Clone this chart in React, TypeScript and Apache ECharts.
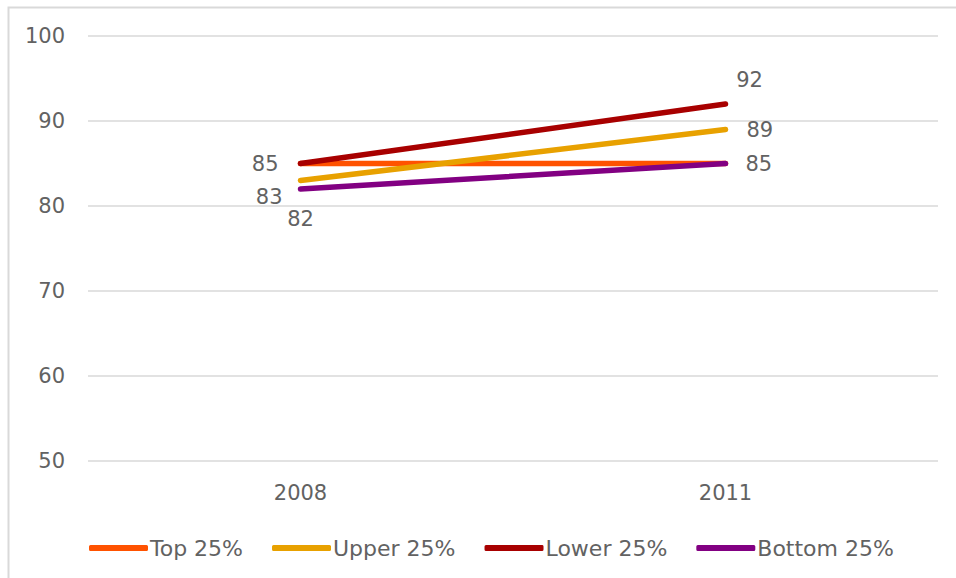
import React, { useEffect, useRef } from "react";
import * as echarts from "echarts";

const categories = ["2008", "2011"];
const seriesNames = ["Top 25%", "Upper 25%", "Lower 25%", "Bottom 25%"];
const topValues = [85, 85];
const upperValues = [83, 89];
const lowerValues = [85, 92];
const bottomValues = [82, 85];
const colors = ["#FF5200", "#E8A100", "#A80000", "#820082"];
const yTicks = { min: 50, max: 100, interval: 10 };

const FONT = "DejaVu Sans";
const TEXT = "#626262";

export default function App() {
  const ref = useRef<HTMLDivElement>(null);
  useEffect(() => {
    if (!ref.current) return;
    const chart = echarts.init(ref.current, undefined, { renderer: "svg" });
    const lbl = (extra: any) => ({
      show: true,
      color: TEXT,
      fontFamily: FONT,
      fontSize: 21,
      ...extra,
    });
    const mk = (i: number, data: number[], labels: any[] | null) => ({
      name: seriesNames[i],
      type: "line",
      data: data.map((v, j) => ({
        value: v,
        label: labels ? labels[j] : { show: false },
      })),
      symbol: "circle",
      symbolSize: 4,
      showSymbol: true,
      itemStyle: { color: colors[i] },
      lineStyle: { color: colors[i], width: 5.5, cap: "round" },
      emphasis: { disabled: true },
      z: 2 + i,
    });
    chart.setOption({
      animation: false,
      graphic: [
        {
          type: "rect",
          shape: { x: 8.5, y: 7.5, width: 1200, height: 1200 },
          style: { fill: "none", stroke: "#d9d9d9", lineWidth: 2 },
          silent: true,
        },
      ],
      grid: { left: 88, right: 18, top: 36, bottom: 117 },
      xAxis: {
        type: "category",
        data: categories,
        boundaryGap: true,
        axisLine: { show: false },
        axisTick: { show: false },
        axisLabel: { color: TEXT, fontFamily: FONT, fontSize: 21, margin: 21 },
        splitLine: { show: false },
      },
      yAxis: {
        type: "value",
        min: yTicks.min,
        max: yTicks.max,
        interval: yTicks.interval,
        axisLine: { show: false },
        axisTick: { show: false },
        axisLabel: { color: TEXT, fontFamily: FONT, fontSize: 21, margin: 23 },
        splitLine: { lineStyle: { color: "#d9d9d9", width: 1.5 } },
      },
      legend: {
        data: seriesNames.map((n, i) => ({
          name: n,
          icon: "roundRect",
          itemStyle: { color: colors[i] },
        })),
        left: 84,
        top: 532,
        itemWidth: 59,
        itemHeight: 6,
        itemGap: 29,
        textStyle: { color: TEXT, fontFamily: FONT, fontSize: 22, padding: [0, 0, 0, -3] },
        selectedMode: false,
      },
      series: [
        mk(0, topValues, null),
        mk(1, upperValues, [
          lbl({ position: "left", distance: 16, offset: [0, 16] }),
          lbl({ position: "right", distance: 19 }),
        ]),
        mk(2, lowerValues, [
          lbl({ position: "left", distance: 20 }),
          lbl({ position: "top", distance: 12, offset: [24, 0] }),
        ]),
        mk(3, bottomValues, [
          lbl({ position: "bottom", distance: 17 }),
          lbl({ position: "right", distance: 18 }),
        ]),
      ],
    });
    return () => chart.dispose();
  }, []);
  return (
    <div
      ref={ref}
      style={{ position: "absolute", left: 0, top: 0, width: 956, height: 578 }}
    />
  );
}
